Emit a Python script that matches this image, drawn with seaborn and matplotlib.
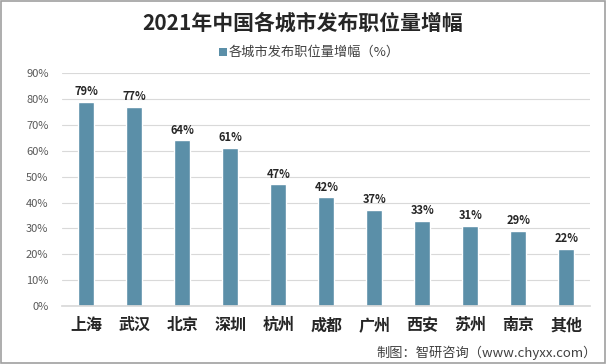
import matplotlib
matplotlib.use("Agg")
import matplotlib.pyplot as plt
import seaborn as sns
import pandas as pd
from matplotlib.patches import Rectangle
from matplotlib.ticker import FuncFormatter, MultipleLocator

cities = ["上海", "武汉", "北京", "深圳", "杭州", "成都", "广州", "西安", "苏州", "南京", "其他"]
values = [79, 77, 64, 61, 47, 42, 37, 33, 31, 29, 22]
series_name = "各城市发布职位量增幅（%）"
title = "2021年中国各城市发布职位量增幅"
source = "制图：智研咨询（www.chyxx.com）"

sns.set_theme(style="white")
plt.rcParams['font.family'] = ['Noto Sans CJK SC', 'DejaVu Sans']

bar_color = "#5b8fa8"
df = pd.DataFrame({"city": cities, "value": values})

fig = plt.figure(figsize=(6.06, 3.64), dpi=100)
ax = fig.add_axes([0.103, 0.159, 0.871, 0.64])
sns.barplot(data=df, x="city", y="value", color=bar_color, width=0.33, ax=ax, saturation=1)

ax.set_ylim(0, 90)
ax.yaxis.set_major_locator(MultipleLocator(10))
ax.yaxis.set_major_formatter(FuncFormatter(lambda v, p: f"{int(v)}%"))
ax.grid(axis='y', color='#d9d9d9', linewidth=0.8)
ax.set_axisbelow(True)
for s in ['top', 'right', 'left']:
    ax.spines[s].set_visible(False)
ax.spines['bottom'].set_color('#d9d9d9')
ax.set_xlabel("")
ax.set_ylabel("")
ax.tick_params(axis='y', labelsize=8, colors='#595959', length=0, pad=10)
ax.tick_params(axis='x', labelsize=11.5, colors='#262626', length=0, pad=8)
for lab in ax.get_xticklabels():
    lab.set_fontweight('bold')
ax.set_xlim(-0.5, len(cities) - 0.5)

for i, v in enumerate(values):
    ax.text(i, v + 1.5, f"{v}%", ha='center', va='bottom', fontsize=8,
            fontweight='bold', color='#262626')

fig.text(0.5, 0.935, title, ha='center', va='center', fontsize=15,
         fontweight='bold', color='#262626')
fig.patches.append(Rectangle((0.362, 0.845), 0.013, 0.022, transform=fig.transFigure,
                             facecolor=bar_color, edgecolor='none'))
fig.text(0.378, 0.856, series_name, ha='left', va='center', fontsize=9.5, color='#404040')
fig.text(0.985, 0.03, source, ha='right', va='center', fontsize=9.5, color='#404040')

fig.patches.append(Rectangle((0.001, 0.002), 0.997, 0.995, transform=fig.transFigure,
                             facecolor='none', edgecolor='#a0a0a0', linewidth=1.2))

fig.savefig("out.png", dpi=100)
